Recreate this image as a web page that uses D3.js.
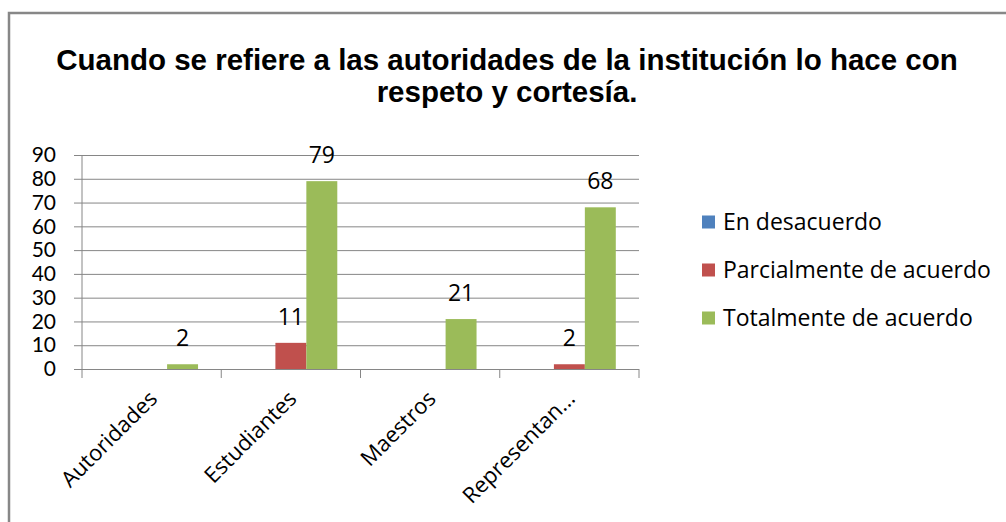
<!DOCTYPE html>
<html>
<head>
<meta charset="utf-8">
<script src="https://cdnjs.cloudflare.com/ajax/libs/d3/7.8.5/d3.min.js"></script>
<style>
  body { margin: 0; background: #fff; }
  svg { display: block; }
</style>
</head>
<body>
<div id="chart"></div>
<script>
// Data
var categories = ['Autoridades', 'Estudiantes', 'Maestros', 'Representan...'];
var series_names = ['En desacuerdo', 'Parcialmente de acuerdo', 'Totalmente de acuerdo'];
var en_desacuerdo = [0, 0, 0, 0];
var parcialmente = [0, 11, 0, 2];
var totalmente = [2, 79, 21, 68];
var y_ticks = [0, 10, 20, 30, 40, 50, 60, 70, 80, 90];
var series_colors = ['#4F81BD', '#C0504D', '#9BBB59'];
var title_lines = ['Cuando se refiere a las autoridades de la institución lo hace con',
                   'respeto y cortesía.'];

var chart_width  = 1006;
var chart_height = 522;
var font = '"Open Sans", sans-serif';

var svg = d3.select('#chart')
    .append('svg')
    .attr('width', chart_width)
    .attr('height', chart_height);

// chart border
svg.append('rect')
    .attr('x', 9)
    .attr('y', 13)
    .attr('width', 1010)
    .attr('height', 520)
    .attr('fill', 'white')
    .attr('stroke', '#878787')
    .attr('stroke-width', 2.5);

// title
svg.append('g')
    .selectAll('text')
    .data(title_lines)
    .enter()
    .append('text')
    .attr('x', 507)
    .attr('y', function(d, i){ return 70 + i * 32; })
    .attr('text-anchor', 'middle')
    .attr('font-family', '"Liberation Sans", Arial, sans-serif')
    .attr('font-weight', 'bold')
    .attr('font-size', 29.5)
    .attr('fill', '#000')
    .text(function(d){ return d; });

var plot = { left: 82, right: 639, top: 155, bottom: 369 };

var x = d3.scaleBand()
    .domain(categories)
    .range([plot.left, plot.right]);

var bar_w = x.bandwidth() / 4.5;
var x1 = d3.scaleBand()
    .domain(series_names)
    .range([bar_w * 0.75, bar_w * 3.75]);

var y = d3.scaleLinear()
    .domain([0, 90])
    .range([plot.bottom, plot.top]);

var color = d3.scaleOrdinal()
    .domain(series_names)
    .range(series_colors);

// gridlines + y axis
var y_axis = d3.axisLeft(y)
    .tickValues(y_ticks)
    .tickSize(8)
    .tickPadding(18);

var y_g = svg.append('g')
    .attr('transform', 'translate(' + plot.left + ',0)')
    .call(y_axis);

y_g.select('.domain').remove();
y_g.selectAll('.tick line').attr('stroke', '#868686');
y_g.selectAll('.tick')
    .append('line')
    .attr('x1', 0)
    .attr('x2', plot.right - plot.left)
    .attr('stroke', '#868686')
    .attr('stroke-width', 1);
y_g.selectAll('.tick text')
    .attr('font-family', 'Lato, sans-serif')
    .attr('font-size', 21)
    .attr('fill', '#000');

svg.append('line')
    .attr('x1', plot.left)
    .attr('x2', plot.left)
    .attr('y1', plot.top)
    .attr('y2', plot.bottom)
    .attr('stroke', '#868686');

// x axis ticks at band boundaries
var boundaries = categories.map(function(c){ return x(c); }).concat([plot.right]);
svg.append('g')
    .selectAll('line')
    .data(boundaries)
    .enter()
    .append('line')
    .attr('x1', function(d){ return d; })
    .attr('x2', function(d){ return d; })
    .attr('y1', plot.bottom)
    .attr('y2', plot.bottom + 9)
    .attr('stroke', '#868686');

// category labels
svg.append('g')
    .selectAll('text')
    .data(categories)
    .enter()
    .append('text')
    .attr('transform', function(d){
        var cx = x(d) + x.bandwidth() / 2 + 7;
        return 'translate(' + cx + ',400) rotate(-45)';
    })
    .attr('text-anchor', 'end')
    .attr('font-family', font)
    .attr('font-size', 22)
    .attr('fill', '#000')
    .text(function(d){ return d; });

// bars
var rows = categories.map(function(c, i){
    return {
        category: c,
        values: [
            { name: series_names[0], value: en_desacuerdo[i] },
            { name: series_names[1], value: parcialmente[i] },
            { name: series_names[2], value: totalmente[i] }
        ]
    };
});

var groups = svg.append('g')
    .selectAll('g')
    .data(rows)
    .enter()
    .append('g')
    .attr('transform', function(d){ return 'translate(' + x(d.category) + ',0)'; });

groups.selectAll('rect')
    .data(function(d){ return d.values; })
    .enter()
    .append('rect')
    .attr('x', function(d){ return x1(d.name); })
    .attr('y', function(d){ return y(d.value); })
    .attr('width', x1.bandwidth())
    .attr('height', function(d){ return plot.bottom - y(d.value); })
    .attr('fill', function(d){ return color(d.name); });

groups.selectAll('text')
    .data(function(d){ return d.values.filter(function(v){ return v.value > 0; }); })
    .enter()
    .append('text')
    .attr('x', function(d){ return x1(d.name) + x1.bandwidth() / 2; })
    .attr('y', function(d){ return y(d.value) - 18; })
    .attr('text-anchor', 'middle')
    .attr('font-family', font)
    .attr('font-size', 23)
    .attr('fill', '#000')
    .text(function(d){ return d.value; });

// legend
var legend = svg.append('g')
    .selectAll('g')
    .data(series_names)
    .enter()
    .append('g')
    .attr('transform', function(d, i){ return 'translate(702,' + (222 + i * 48) + ')'; });

legend.append('rect')
    .attr('x', 0)
    .attr('y', -6.5)
    .attr('width', 13)
    .attr('height', 13)
    .attr('fill', function(d){ return color(d); });

legend.append('text')
    .attr('x', 21)
    .attr('y', 0)
    .attr('dy', '0.35em')
    .attr('font-family', font)
    .attr('font-size', 23)
    .attr('fill', '#000')
    .text(function(d){ return d; });
</script>
</body>
</html>
